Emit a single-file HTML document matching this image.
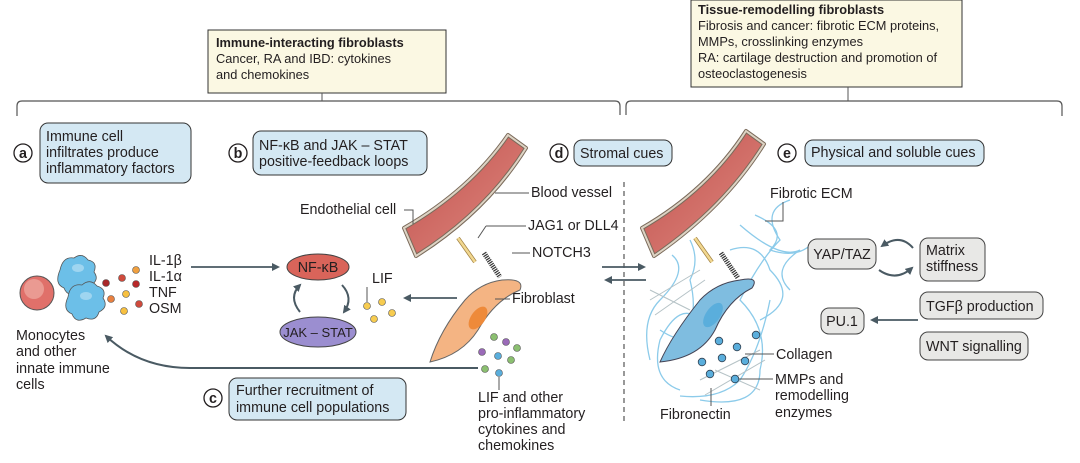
<!DOCTYPE html>
<html><head><meta charset="utf-8"><style>
html,body{margin:0;padding:0;background:#fff;}
svg{display:block;font-family:"Liberation Sans",sans-serif;}
.t{font-size:14.3px;fill:#231f20;}
.s{font-size:12.8px;fill:#231f20;}
</style></head><body>
<svg width="1080" height="463" viewBox="0 0 1080 463" xmlns="http://www.w3.org/2000/svg">
<defs>
<marker id="ah" markerWidth="8" markerHeight="8" refX="6" refY="4" orient="auto" markerUnits="userSpaceOnUse"><path d="M0,0 L8,4 L0,8 z" fill="#4a5a63"/></marker>
<linearGradient id="ves" x1="0" y1="0" x2="1" y2="1"><stop offset="0" stop-color="#c0504d"/><stop offset="1" stop-color="#e08a80"/></linearGradient>
</defs>

<rect x="208" y="30" width="238" height="63" fill="#fbf8e3" stroke="#333" stroke-width="1"/>
<text x="216" y="47" class="s" font-weight="bold">Immune-interacting fibroblasts</text>
<text x="216" y="63" class="s">Cancer, RA and IBD: cytokines</text>
<text x="216" y="79" class="s">and chemokines</text>
<line x1="322" y1="93" x2="322" y2="101" stroke="#555"/>
<rect x="691" y="0" width="271" height="87" fill="#fbf8e3" stroke="#333" stroke-width="1"/>
<text x="698" y="14" class="s" font-weight="bold">Tissue-remodelling fibroblasts</text>
<text x="698" y="30" class="s">Fibrosis and cancer: fibrotic ECM proteins,</text>
<text x="698" y="46" class="s">MMPs, crosslinking enzymes</text>
<text x="698" y="62" class="s">RA: cartilage destruction and promotion of</text>
<text x="698" y="78" class="s">osteoclastogenesis</text>
<line x1="848" y1="87" x2="848" y2="101" stroke="#555"/>

<path d="M17,116 V106 Q17,101 22,101 H615 Q620,101 620,106 V115" fill="none" stroke="#555" stroke-width="1.2"/>
<path d="M626,115 V106 Q626,101 631,101 H1057 Q1062,101 1062,106 V116" fill="none" stroke="#555" stroke-width="1.2"/>

<g stroke="#333" stroke-width="1" fill="#d4e8f3">
<rect x="40" y="123" width="151" height="60" rx="8"/>
<rect x="253" y="131" width="174" height="44" rx="8"/>
<rect x="229" y="378" width="177" height="42" rx="8"/>
<rect x="574" y="140" width="98" height="26" rx="8"/>
<rect x="805" y="140" width="179" height="26" rx="8"/>
</g>
<g fill="#fff" stroke="#231f20" stroke-width="1.3">
<circle cx="23" cy="153" r="9"/><circle cx="238" cy="153" r="9"/><circle cx="213" cy="398" r="9"/><circle cx="559" cy="153" r="9"/><circle cx="787" cy="153" r="9"/>
</g>
<g class="t" font-weight="bold" text-anchor="middle">
<text x="23" y="158">a</text><text x="238" y="158">b</text><text x="213" y="403">c</text><text x="559" y="158">d</text><text x="787" y="158">e</text>
</g>
<text x="46" y="141" class="t">Immune cell</text>
<text x="46" y="157" class="t">infiltrates produce</text>
<text x="46" y="173" class="t">inflammatory factors</text>
<text x="259" y="150" class="t">NF-κB and JAK – STAT</text>
<text x="259" y="166" class="t">positive-feedback loops</text>
<text x="236" y="395" class="t">Further recruitment of</text>
<text x="236" y="412" class="t">immune cell populations</text>
<text x="580" y="158" class="t">Stromal cues</text>
<text x="811" y="157" class="t">Physical and soluble cues</text>

<circle cx="37" cy="293" r="17" fill="#e0706a" stroke="#555"/>
<circle cx="34" cy="289" r="10" fill="#ea9a92"/>
<g fill="#6cbfe8" stroke="#555" stroke-width="0.8">
<path d="M60,270 q3,-14 14,-12 q8,-6 14,2 q10,2 6,12 q6,8 -4,14 q-2,10 -12,6 q-10,6 -14,-4 q-10,-4 -4,-18z"/>
<path d="M68,297 q2,-14 14,-12 q8,-7 15,1 q10,3 6,12 q6,9 -4,14 q-3,10 -13,6 q-10,6 -14,-4 q-10,-4 -4,-17z"/>
</g>
<g fill="#9fd5f0"><ellipse cx="78" cy="268" rx="6" ry="4"/><ellipse cx="86" cy="296" rx="6" ry="4"/></g>
<g stroke="#555" stroke-width="0.6">
<circle cx="136" cy="270" r="3.5" fill="#f0a040"/><circle cx="122" cy="278" r="3.5" fill="#d04a3c"/><circle cx="106" cy="283" r="3.5" fill="#a8282a"/>
<circle cx="136" cy="284" r="3.5" fill="#b8282a"/><circle cx="126" cy="294" r="3.5" fill="#f7c040"/><circle cx="111" cy="299" r="3.5" fill="#e88040"/>
<circle cx="139" cy="304" r="3.5" fill="#d04a3c"/><circle cx="124" cy="311" r="3.5" fill="#f7c040"/>
</g>
<text x="149" y="265" class="t">IL-1β</text>
<text x="149" y="281" class="t">IL-1α</text>
<text x="149" y="297" class="t">TNF</text>
<text x="149" y="313" class="t">OSM</text>
<text x="16" y="340" class="t">Monocytes</text>
<text x="16" y="356" class="t">and other</text>
<text x="16" y="373" class="t">innate immune</text>
<text x="16" y="389" class="t">cells</text>

<line x1="191" y1="267" x2="278" y2="267" stroke="#4a5a63" stroke-width="1.8" marker-end="url(#ah)"/>
<ellipse cx="318" cy="267" rx="31" ry="13" fill="#d9645a" stroke="#444"/>
<text x="318" y="272" class="t" text-anchor="middle">NF-κB</text>
<ellipse cx="318" cy="332" rx="38" ry="15" fill="#9b8ed0" stroke="#444"/>
<text x="318" y="337" class="t" text-anchor="middle" style="font-size:13px">JAK – STAT</text>
<path d="M300,312 Q288,297 300,285" fill="none" stroke="#4a5a63" stroke-width="2" marker-end="url(#ah)"/>
<path d="M342,285 Q354,298 344,312" fill="none" stroke="#4a5a63" stroke-width="2" marker-end="url(#ah)"/>
<text x="372" y="283" class="t">LIF</text>
<line x1="367" y1="287" x2="367" y2="302" stroke="#555"/>
<g fill="#f7cc50" stroke="#555" stroke-width="0.6">
<circle cx="367" cy="306" r="3.5"/><circle cx="382" cy="302" r="3.5"/><circle cx="374" cy="319" r="3.5"/><circle cx="392" cy="313" r="3.5"/>
</g>
<line x1="457" y1="298" x2="405" y2="298" stroke="#4a5a63" stroke-width="1.8" marker-end="url(#ah)"/>

<path d="M404,228 Q470,190 508,135 L526,148 Q486,212 416,256 z" fill="url(#ves)" stroke="#7a6a5a" stroke-width="4" stroke-linejoin="round"/>
<path d="M404,228 Q470,190 508,135 L526,148 Q486,212 416,256 z" fill="none" stroke="#ddd3c4" stroke-width="2"/>
<text x="300" y="214" class="t">Endothelial cell</text>
<path d="M404,210 H413 V224" fill="none" stroke="#555"/>
<text x="531" y="197" class="t">Blood vessel</text><line x1="495" y1="193" x2="529" y2="193" stroke="#555"/>
<text x="528" y="230" class="t">JAG1 or DLL4</text><path d="M486,226 H526" stroke="#555"/><path d="M486,226 L478,238" stroke="#555"/>
<text x="532" y="257" class="t">NOTCH3</text><path d="M512,253 H530" stroke="#555"/>
<line x1="458" y1="238" x2="475" y2="262" stroke="#a08040" stroke-width="4"/>
<line x1="458" y1="238" x2="475" y2="262" stroke="#f2d890" stroke-width="2.5"/>
<line x1="484" y1="253" x2="500" y2="277" stroke="#333" stroke-width="5" stroke-dasharray="1.2 1"/>
<path d="M502,280 Q525,278 520,290 Q495,300 478,330 Q462,355 430,362 Q440,330 465,300 Q480,283 502,280z" fill="#f4b483" stroke="#666"/>
<ellipse cx="478" cy="318" rx="7" ry="13" transform="rotate(35 478 318)" fill="#ee8a3a"/>
<text x="512" y="303" class="t">Fibroblast</text><line x1="495" y1="299" x2="510" y2="299" stroke="#555"/>
<g stroke="#555" stroke-width="0.6">
<circle cx="494" cy="337" r="3.5" fill="#8bbf70"/><circle cx="506" cy="342" r="3.5" fill="#9a6ab8"/><circle cx="517" cy="348" r="3.5" fill="#8bbf70"/>
<circle cx="482" cy="352" r="3.5" fill="#9a6ab8"/><circle cx="498" cy="356" r="3.5" fill="#5aaedc"/><circle cx="511" cy="360" r="3.5" fill="#8bbf70"/>
<circle cx="485" cy="369" r="3.5" fill="#8bbf70"/><circle cx="499" cy="373" r="3.5" fill="#5aaedc"/>
</g>
<line x1="499" y1="377" x2="499" y2="390" stroke="#555"/>
<text x="478" y="402" class="t">LIF and other</text>
<text x="478" y="418" class="t">pro-inflammatory</text>
<text x="478" y="434" class="t">cytokines and</text>
<text x="478" y="450" class="t">chemokines</text>
<path d="M478,368 H190 Q140,368 106,336" fill="none" stroke="#4a5a63" stroke-width="2" marker-end="url(#ah)"/>

<line x1="624" y1="182" x2="624" y2="422" stroke="#555" stroke-width="1.2" stroke-dasharray="5 4"/>
<line x1="602" y1="267" x2="644" y2="267" stroke="#4a5a63" stroke-width="1.8" marker-end="url(#ah)"/>
<line x1="646" y1="280" x2="606" y2="280" stroke="#4a5a63" stroke-width="1.8" marker-end="url(#ah)"/>

<g fill="none" stroke="#8ccbea" stroke-width="1.3">
<path d="M650,360 Q640,320 660,300 Q690,270 672,255 M680,390 Q650,380 660,340 Q680,300 700,320"/>
<path d="M700,400 Q760,410 760,370 Q770,330 740,300 Q760,260 780,240 Q760,210 790,200"/>
<path d="M740,225 Q780,260 800,250 Q770,270 790,290 M755,215 Q790,230 770,250 Q800,260 815,240"/>
<path d="M690,240 Q700,260 690,280 Q700,320 680,340 M770,300 Q760,350 740,380 Q720,400 680,396"/>
<path d="M660,330 Q690,350 710,330 M730,250 Q760,240 770,270 Q800,300 760,320"/>
</g>
<g fill="none" stroke="#b5c2c6" stroke-width="1">
<path d="M650,300 L700,270 M655,315 L705,280 M650,290 L690,310 M700,380 L760,350 M705,395 L765,360 M715,370 L760,390"/>
</g>
<path d="M642,228 Q708,190 746,131 L764,144 Q724,208 654,256 z" fill="url(#ves)" stroke="#7a6a5a" stroke-width="4" stroke-linejoin="round"/>
<path d="M642,228 Q708,190 746,131 L764,144 Q724,208 654,256 z" fill="none" stroke="#ddd3c4" stroke-width="2"/>
<line x1="695" y1="238" x2="712" y2="262" stroke="#a08040" stroke-width="4"/>
<line x1="695" y1="238" x2="712" y2="262" stroke="#f2d890" stroke-width="2.5"/>
<line x1="721" y1="253" x2="738" y2="278" stroke="#333" stroke-width="5" stroke-dasharray="1.2 1"/>
<path d="M740,280 Q760,276 752,288 Q728,300 715,330 Q700,358 660,362 Q672,335 700,300 Q716,283 740,280z" fill="#7fbde0" stroke="#445"/>
<ellipse cx="713" cy="315" rx="7" ry="14" transform="rotate(35 713 315)" fill="#5aaedc"/>
<g fill="#5aaedc" stroke="#345" stroke-width="0.8">
<circle cx="719" cy="341" r="3.8"/><circle cx="737" cy="347" r="3.8"/><circle cx="756" cy="335" r="3.8"/>
<circle cx="702" cy="362" r="3.8"/><circle cx="722" cy="358" r="3.8"/><circle cx="745" cy="361" r="3.8"/>
<circle cx="710" cy="374" r="3.8"/><circle cx="735" cy="379" r="3.8"/>
</g>
<text x="770" y="198" class="t">Fibrotic ECM</text>
<path d="M783,202 V221 H765" fill="none" stroke="#555"/>
<text x="776" y="359" class="t">Collagen</text><line x1="745" y1="354" x2="774" y2="354" stroke="#555"/>
<text x="775" y="384" class="t">MMPs and</text>
<text x="775" y="400" class="t">remodelling</text>
<text x="775" y="417" class="t">enzymes</text>
<line x1="739" y1="379" x2="773" y2="379" stroke="#555"/>
<text x="660" y="419" class="t">Fibronectin</text><line x1="711" y1="388" x2="711" y2="406" stroke="#555"/>

<g fill="#e8e8e6" stroke="#444" stroke-width="1">
<rect x="808" y="239" width="68" height="30" rx="9"/>
<rect x="920" y="238" width="65" height="43" rx="8"/>
<rect x="920" y="292" width="123" height="27" rx="8"/>
<rect x="821" y="308" width="43" height="26" rx="8"/>
<rect x="920" y="332" width="108" height="28" rx="8"/>
</g>
<text x="842" y="259" class="t" text-anchor="middle">YAP/TAZ</text>
<text x="926" y="255" class="t">Matrix</text>
<text x="926" y="271" class="t">stiffness</text>
<text x="926" y="311" class="t">TGFβ production</text>
<text x="842" y="326" class="t" text-anchor="middle">PU.1</text>
<text x="926" y="351" class="t">WNT signalling</text>
<path d="M913,248 Q900,233 882,246" fill="none" stroke="#4a5a63" stroke-width="2" marker-end="url(#ah)"/>
<path d="M879,270 Q896,282 912,268" fill="none" stroke="#4a5a63" stroke-width="2" marker-end="url(#ah)"/>
<line x1="918" y1="320" x2="872" y2="320" stroke="#4a5a63" stroke-width="1.8" marker-end="url(#ah)"/>
</svg>
</body></html>
